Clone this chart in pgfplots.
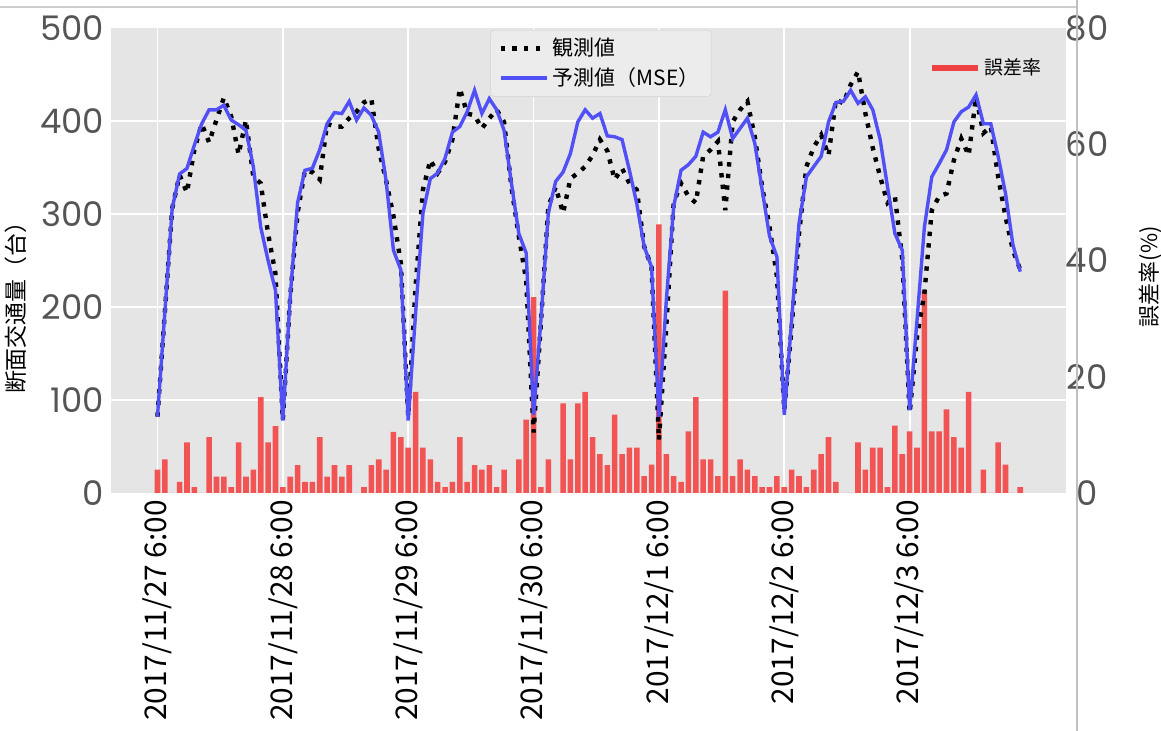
\documentclass[border=0pt]{standalone}
\usepackage{fontspec}
\setmainfont{Noto Sans CJK JP}
\newfontfamily\numfont{Poppins}
\usepackage{pgfplots}
\usepackage{pgfplotstable}
\pgfplotsset{compat=1.18}

\definecolor{bgray}{RGB}{229,229,229}
\definecolor{ticklab}{RGB}{85,85,85}
\definecolor{predblue}{RGB}{80,80,246}
\definecolor{errred}{RGB}{242,84,84}
\definecolor{legred}{RGB}{238,66,66}

% i = hour index (17 hours per day, 6:00-22:00)
\pgfplotstableread{
i obs pred err
0 82 82 4.0
1 194 194 5.8
2 306 306 0
3 342 343 1.9
4 323 349 8.7
5 369 374 1.0
6 397 397 0
7 377 412 9.6
8 401 412 2.8
9 425 417 2.8
10 405 401 1.0
11 364 396 8.7
12 401 390 2.8
13 340 351 4.0
14 333 286 16.5
15 279 250 8.7
16 236 218 11.5
17 78 78 1.0
18 211 211 2.8
19 301 312 4.8
20 347 347 1.9
21 345 349 1.9
22 337 369 9.6
23 397 397 2.8
24 394 409 4.8
25 394 408 2.8
26 403 421 4.8
27 410 401 0
28 420 414 1.0
29 424 406 4.8
30 370 388 5.8
31 336 336 4.0
32 298 261 10.5
33 247 240 9.6
34 82 78 7.8
35 222 193 17.4
36 326 301 7.8
37 358 338 5.8
38 344 344 1.9
39 356 360 1.0
40 380 388 1.9
41 435 394 9.6
42 408 410 1.9
43 406 433 4.8
44 392 408 4.0
45 403 424 4.8
46 412 412 1.0
47 399 390 4.0
48 329 333 0
49 276 279 5.8
50 229 258 12.6
51 65 84 33.7
52 183 186 1.0
53 308 301 5.8
54 329 335 0
55 301 345 15.4
56 338 365 5.8
57 344 399 15.4
58 351 412 17.4
59 363 403 9.6
60 380 408 6.7
61 368 384 4.8
62 337 383 13.5
63 349 380 6.7
64 333 347 7.8
65 326 311 7.8
66 265 265 2.9
67 243 243 4.9
68 57 82 46.2
69 179 207 6.7
70 312 308 2.9
71 333 347 1.9
72 319 353 10.6
73 312 362 16.5
74 362 388 5.8
75 369 383 5.8
76 378 388 2.9
77 304 412 34.8
78 399 381 2.9
79 412 392 5.8
80 421 403 4.0
81 383 376 2.9
82 329 326 1.0
83 286 276 1.0
84 233 254 2.9
85 89 84 1.0
86 179 186 4.0
87 279 290 2.9
88 351 340 1.0
89 372 351 4.0
90 385 362 6.7
91 363 399 9.6
92 423 420 1.9
93 419 421 0
94 439 433 0
95 453 419 8.7
96 408 426 4.0
97 371 412 7.8
98 340 380 7.8
99 312 329 1.0
100 319 279 11.6
101 251 261 6.7
102 86 89 10.6
103 168 186 7.8
104 215 286 34.8
105 304 340 10.6
106 319 354 10.6
107 322 369 14.4
108 358 399 9.6
109 381 410 7.8
110 363 415 17.4
111 426 428 0
112 387 397 4.0
113 394 397 0
114 340 362 8.7
115 297 322 4.9
116 261 267 0
117 240 238 1.0
}\traffic

\begin{document}
\begin{tikzpicture}
\pgfplotsset{
  base/.style={
    scale only axis,
    width=477.5bp, height=232.5bp,
    xmin=-6.3, xmax=123.2,
    axis line style={draw=none},
    major tick length=0pt,
    xtick={0,17,34,51,68,85,102},
    /pgf/number format/assume math mode=true,
    yticklabel style={font=\numfont\fontsize{17}{17}\selectfont, text=ticklab},
    legend cell align=left,
    legend image code/.code={\draw[##1] (0bp,0bp) -- (23bp,0bp);},
  },
}
% right axis: error rate bars, background and grid
\begin{axis}[base, name=ax,
  axis background/.style={fill=bgray},
  ymin=0, ymax=80, ytick={0,20,40,60,80},
  yticklabel pos=right,
  yticklabel style={anchor=center, xshift=10.5bp},
  xmajorgrids=true,
  extra y ticks={16,32,48,64},
  extra y tick labels={},
  extra y tick style={grid=major},
  grid style={white, line width=0.9bp},
  xticklabels={2017/11/27 6:00,2017/11/28 6:00,2017/11/29 6:00,2017/11/30 6:00,2017/12/1 6:00,2017/12/2 6:00,2017/12/3 6:00},
  xticklabel style={rotate=90, anchor=east, font=\fontsize{15}{15}\selectfont, text=black},
  ylabel={誤差率(\%)},
  ylabel style={at={(rel axis cs:1.088,0.465)}, anchor=center, font=\fontsize{11}{11}\selectfont},
  legend style={at={(0.985,0.914)}, anchor=east, draw=none, fill=none,
    font=\fontsize{9.5}{11}\selectfont},
]
\addplot[ybar, bar width=0.76, fill=errred, draw=none, forget plot]
  table[x=i, y=err] {\traffic};
\addlegendimage{legred, line width=2.6bp}
\addlegendentry{誤差率}
\end{axis}
% left axis: traffic volume lines
\begin{axis}[base,
  ymin=0, ymax=500, ytick={0,100,200,300,400,500},
  xticklabels={},
  ylabel={断面交通量（台）},
  ylabel style={at={(ticklabel cs:0.41)}, font=\fontsize{11.5}{11.5}\selectfont},
  legend style={at={(0.397,0.996)}, anchor=north west,
    fill={rgb,255:red,236;green,236;blue,236}, draw={rgb,255:red,218;green,218;blue,218},
    rounded corners=2bp, font=\fontsize{10.5}{12.5}\selectfont, row sep=0.5bp,
    inner xsep=4bp},
]
\addplot[black, line width=2.2bp, dash pattern=on 2.2bp off 3.6bp]
  table[x=i, y=obs] {\traffic};
\addlegendentry{観測値}
\addplot[predblue, line width=1.7bp]
  table[x=i, y=pred] {\traffic};
\addlegendentry{予測値（MSE）}
\end{axis}
\draw[gray!40, line width=0.6bp] ([xshift=-55.5bp, yshift=10.5bp]ax.north west) -- ([xshift=5.5bp, yshift=10.5bp]ax.north east);
\draw[gray!50, line width=0.6bp] ([xshift=5.5bp, yshift=14bp]ax.north east) -- ([xshift=5.5bp, yshift=-119bp]ax.south east);
\pgfresetboundingbox
\path ([xshift=-55.5bp, yshift=-119bp]ax.south west) rectangle ([xshift=47.5bp, yshift=14bp]ax.north east);
\end{tikzpicture}
\end{document}
